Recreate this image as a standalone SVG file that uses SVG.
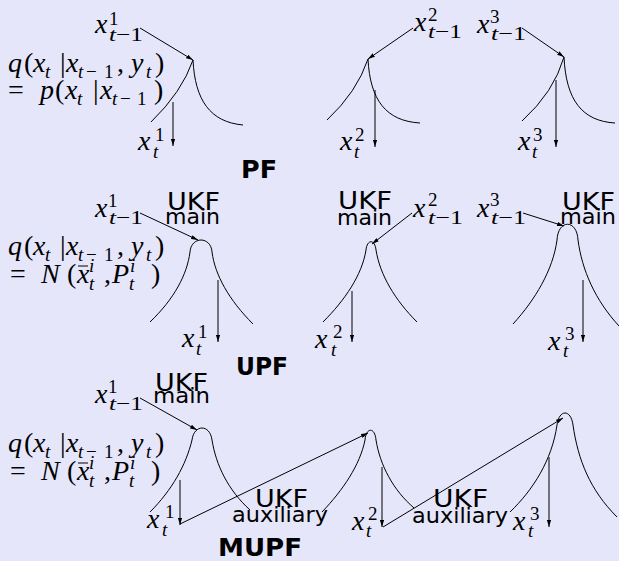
<svg xmlns="http://www.w3.org/2000/svg" width="619" height="561" viewBox="0 0 619 561">
<defs>
<style>
.bg{fill:#e6e6fa}
.c{fill:none;stroke:#000;stroke-width:1}
.a{fill:none;stroke:#000;stroke-width:1;marker-end:url(#ah)}
text{fill:#000}
.mi{font-family:"Liberation Serif","DejaVu Serif",serif;font-size:28px;font-style:italic}
.mr{font-family:"Liberation Serif","DejaVu Serif",serif;font-size:28px}
.si{font-family:"Liberation Serif","DejaVu Serif",serif;font-size:19px;font-style:italic}
.sr{font-family:"Liberation Serif","DejaVu Serif",serif;font-size:19px}
.it{font-style:italic}
.up{font-style:normal}
.sm{font-size:19px}
.u{font-family:"DejaVu Sans","Liberation Sans",sans-serif;font-size:25px}
.w{font-family:"DejaVu Sans","Liberation Sans",sans-serif;font-size:22px}
.b{font-family:"DejaVu Sans","Liberation Sans",sans-serif;font-size:25px;font-weight:bold}
</style>
<marker id="ah" viewBox="0 0 10 6" refX="10" refY="3" markerWidth="7" markerHeight="4.2" orient="auto" markerUnits="userSpaceOnUse">
<path d="M0,0 L10,3 L0,6 z" fill="#000"/>
</marker>
</defs>
<rect class="bg" x="0" y="0" width="619" height="561"/>

<!-- ===== PF row ===== -->
<g id="pf-formula">
<text class="mi" y="72"><tspan x="8">q</tspan><tspan x="24" class="up">(</tspan><tspan x="33">x</tspan><tspan x="45" y="78" class="sm">t</tspan><tspan x="60" y="72" class="up">|</tspan><tspan x="66">x</tspan><tspan x="78" y="78" class="sm">t</tspan><tspan x="86" class="sm up">−</tspan><tspan x="104" class="sm up">1</tspan><tspan x="117" y="72" class="up">,</tspan><tspan x="131">y</tspan><tspan x="146" y="78" class="sm">t</tspan><tspan x="155" y="72" class="up">)</tspan></text>
<text class="mi" y="99"><tspan x="8" class="up">=</tspan><tspan x="40">p</tspan><tspan x="55" class="up">(</tspan><tspan x="65">x</tspan><tspan x="77" y="105" class="sm">t</tspan><tspan x="93" y="99" class="up">|</tspan><tspan x="100">x</tspan><tspan x="112" y="105" class="sm">t</tspan><tspan x="120" class="sm up">−</tspan><tspan x="137" class="sm up">1</tspan><tspan x="154" y="99" class="up">)</tspan></text>
</g>
<g id="pf-node1">
<path class="c" d="M151,122 Q182,92 193,60"/>
<path class="c" d="M193,60 C195,100 210,122 243,125"/>
<text class="mi" x="95" y="33">x</text><text class="sr" x="109" y="25">1</text>
<text class="sr" x="109" y="41" textLength="34" lengthAdjust="spacingAndGlyphs"><tspan class="it">t</tspan>−1</text>
<text class="mi" x="138" y="150">x</text><text class="sr" x="155" y="141">1</text><text class="si" x="153" y="158">t</text>
</g>
<g id="pf-node2">
<path class="c" d="M327,120 Q357,92 368,59"/>
<path class="c" d="M368,59 C370,100 386,121 420,123"/>
<text class="mi" x="414" y="31">x</text><text class="sr" x="428" y="21">2</text>
<text class="sr" x="428" y="38" textLength="34" lengthAdjust="spacingAndGlyphs"><tspan class="it">t</tspan>−1</text>
<text class="mi" x="340" y="150">x</text><text class="sr" x="355" y="141">2</text><text class="si" x="354" y="158">t</text>
</g>
<g id="pf-node3">
<path class="c" d="M522,121 Q554,92 564,57"/>
<path class="c" d="M564,57 C566,100 582,121 615,123"/>
<text class="mi" x="477" y="33">x</text><text class="sr" x="490" y="23">3</text>
<text class="sr" x="491" y="40" textLength="35" lengthAdjust="spacingAndGlyphs"><tspan class="it">t</tspan>−1</text>
<text class="mi" x="518" y="150">x</text><text class="sr" x="533" y="141">3</text><text class="si" x="532" y="158">t</text>
</g>
<g id="pf-title"><text class="b" x="241" y="178" textLength="36" lengthAdjust="spacingAndGlyphs">PF</text></g>

<!-- ===== UPF row ===== -->
<g id="upf-formula">
<text class="mi" y="255"><tspan x="8">q</tspan><tspan x="24" class="up">(</tspan><tspan x="33">x</tspan><tspan x="45" y="261" class="sm">t</tspan><tspan x="60" y="255" class="up">|</tspan><tspan x="66">x</tspan><tspan x="78" y="261" class="sm">t</tspan><tspan x="86" class="sm up">−</tspan><tspan x="104" class="sm up">1</tspan><tspan x="117" y="255" class="up">,</tspan><tspan x="131">y</tspan><tspan x="146" y="261" class="sm">t</tspan><tspan x="155" y="255" class="up">)</tspan></text>
<text class="mi" y="283"><tspan x="10" class="up">=</tspan><tspan x="41">N</tspan><tspan x="67" class="up">(</tspan><tspan x="77">x</tspan><tspan x="89" y="272" class="sm">i</tspan><tspan x="89" y="290" class="sm">t</tspan><tspan x="104" y="283" class="up">,</tspan><tspan x="112">P</tspan><tspan x="130" y="272" class="sm">i</tspan><tspan x="129" y="290" class="sm">t</tspan><tspan x="151" y="283" class="up">)</tspan></text>
<line class="c" x1="78" y1="266" x2="88" y2="266"/>
</g>
<g id="upf-node1">
<path class="c" d="M150,322 C174,299 187,275 190,252 C191,236 211,236 212,252 C215,275 229,300 253,324"/>
<text class="mi" x="95" y="217">x</text><text class="sr" x="108" y="207">1</text>
<text class="sr" x="109" y="224" textLength="34" lengthAdjust="spacingAndGlyphs"><tspan class="it">t</tspan>−1</text>
<text class="u" x="167" y="210" textLength="53" lengthAdjust="spacingAndGlyphs">UKF</text>
<text class="w" x="165" y="224" textLength="55" lengthAdjust="spacingAndGlyphs">main</text>
<text class="mi" x="182" y="347">x</text><text class="sr" x="198" y="338">1</text><text class="si" x="196" y="355">t</text>
</g>
<g id="upf-node2">
<path class="c" d="M323,322 C345,300 362,275 366,250 C367,239 375,239 376,250 C380,275 395,300 417,322"/>
<text class="u" x="338" y="209" textLength="54" lengthAdjust="spacingAndGlyphs">UKF</text>
<text class="w" x="337" y="225" textLength="55" lengthAdjust="spacingAndGlyphs">main</text>
<text class="mi" x="413" y="217">x</text><text class="sr" x="428" y="206">2</text>
<text class="sr" x="428" y="224" textLength="35" lengthAdjust="spacingAndGlyphs"><tspan class="it">t</tspan>−1</text>
<text class="mi" x="315" y="348">x</text><text class="sr" x="333" y="338">2</text><text class="si" x="331" y="356">t</text>
</g>
<g id="upf-node3">
<path class="c" d="M513,324 C535,300 553,270 557,240 C558,219 577,219 578,240 C582,270 595,300 619,326"/>
<text class="mi" x="477" y="217">x</text><text class="sr" x="490" y="206">3</text>
<text class="sr" x="491" y="224" textLength="35" lengthAdjust="spacingAndGlyphs"><tspan class="it">t</tspan>−1</text>
<text class="u" x="562" y="210" textLength="53" lengthAdjust="spacingAndGlyphs">UKF</text>
<text class="w" x="560" y="224" textLength="56" lengthAdjust="spacingAndGlyphs">main</text>
<text class="mi" x="548" y="350">x</text><text class="sr" x="565" y="340">3</text><text class="si" x="563" y="357">t</text>
</g>
<g id="upf-title"><text class="b" x="236" y="375" textLength="52" lengthAdjust="spacingAndGlyphs">UPF</text></g>

<!-- ===== MUPF row ===== -->
<g id="mupf-formula">
<text class="mi" y="452"><tspan x="8">q</tspan><tspan x="24" class="up">(</tspan><tspan x="33">x</tspan><tspan x="45" y="458" class="sm">t</tspan><tspan x="60" y="452" class="up">|</tspan><tspan x="66">x</tspan><tspan x="78" y="458" class="sm">t</tspan><tspan x="86" class="sm up">−</tspan><tspan x="104" class="sm up">1</tspan><tspan x="117" y="452" class="up">,</tspan><tspan x="131">y</tspan><tspan x="146" y="458" class="sm">t</tspan><tspan x="155" y="452" class="up">)</tspan></text>
<text class="mi" y="480"><tspan x="10" class="up">=</tspan><tspan x="41">N</tspan><tspan x="67" class="up">(</tspan><tspan x="77">x</tspan><tspan x="89" y="469" class="sm">i</tspan><tspan x="89" y="487" class="sm">t</tspan><tspan x="104" y="480" class="up">,</tspan><tspan x="112">P</tspan><tspan x="130" y="469" class="sm">i</tspan><tspan x="129" y="487" class="sm">t</tspan><tspan x="151" y="480" class="up">)</tspan></text>
<line class="c" x1="78" y1="463" x2="88" y2="463"/>
</g>
<g id="mupf-node1">
<path class="c" d="M150,512 C172,490 186,465 192,440 C194,424 210,424 212,440 C216,465 228,490 250,510"/>
<text class="u" x="155" y="391" textLength="53" lengthAdjust="spacingAndGlyphs">UKF</text>
<text class="w" x="153" y="403" textLength="57" lengthAdjust="spacingAndGlyphs">main</text>
<text class="mi" x="95" y="403">x</text><text class="sr" x="108" y="393">1</text>
<text class="sr" x="109" y="410" textLength="34" lengthAdjust="spacingAndGlyphs"><tspan class="it">t</tspan>−1</text>
<text class="mi" x="147" y="528">x</text><text class="sr" x="165" y="518">1</text><text class="si" x="162" y="536">t</text>
</g>
<g id="mupf-aux1">
<text class="u" x="255" y="507" textLength="53" lengthAdjust="spacingAndGlyphs">UKF</text>
<text class="w" x="232" y="522" textLength="96" lengthAdjust="spacingAndGlyphs">auxiliary</text>
</g>
<g id="mupf-node2">
<path class="c" d="M322,512 C343,490 360,465 365,440 C366,427 375,427 376,440 C380,465 393,490 414,508"/>
<text class="mi" x="352" y="530">x</text><text class="sr" x="368" y="520">2</text><text class="si" x="366" y="537">t</text>
</g>
<g id="mupf-aux2">
<text class="u" x="433" y="507" textLength="55" lengthAdjust="spacingAndGlyphs">UKF</text>
<text class="w" x="412" y="523" textLength="96" lengthAdjust="spacingAndGlyphs">auxiliary</text>
</g>
<g id="mupf-node3">
<path class="c" d="M510,512 C533,490 552,460 557,425 C559,409 571,409 573,425 C578,460 590,490 617,517"/>
<text class="mi" x="513" y="530">x</text><text class="sr" x="530" y="520">3</text><text class="si" x="528" y="537">t</text>
</g>
<g id="mupf-title"><text class="b" x="218" y="556" style="font-size:24px" textLength="84" lengthAdjust="spacingAndGlyphs">MUPF</text></g>

<!-- ===== connectors ===== -->
<g id="connectors">
<line class="a" x1="140" y1="28" x2="193" y2="60"/>
<line class="a" x1="173" y1="102" x2="173" y2="146"/>
<line class="a" x1="413" y1="28" x2="368" y2="59"/>
<line class="a" x1="375" y1="90" x2="375" y2="147"/>
<line class="a" x1="522" y1="28" x2="564" y2="57"/>
<line class="a" x1="556" y1="80" x2="556" y2="147"/>

<line class="a" x1="140" y1="213" x2="198" y2="240"/>
<line class="a" x1="218" y1="280" x2="218" y2="342"/>
<line class="a" x1="412" y1="213" x2="372" y2="244"/>
<line class="a" x1="352" y1="291" x2="352" y2="342"/>
<line class="a" x1="523" y1="213" x2="564" y2="226"/>
<line class="a" x1="583" y1="280" x2="583" y2="342"/>

<line class="a" x1="140" y1="398" x2="197" y2="430"/>
<line class="a" x1="180" y1="480" x2="180" y2="525"/>
<line class="a" x1="180" y1="524" x2="368" y2="433"/>
<line class="a" x1="382" y1="467" x2="382" y2="527"/>
<line class="a" x1="383" y1="527" x2="563" y2="418"/>
<line class="a" x1="549" y1="457" x2="549" y2="527"/>
</g>
</svg>
